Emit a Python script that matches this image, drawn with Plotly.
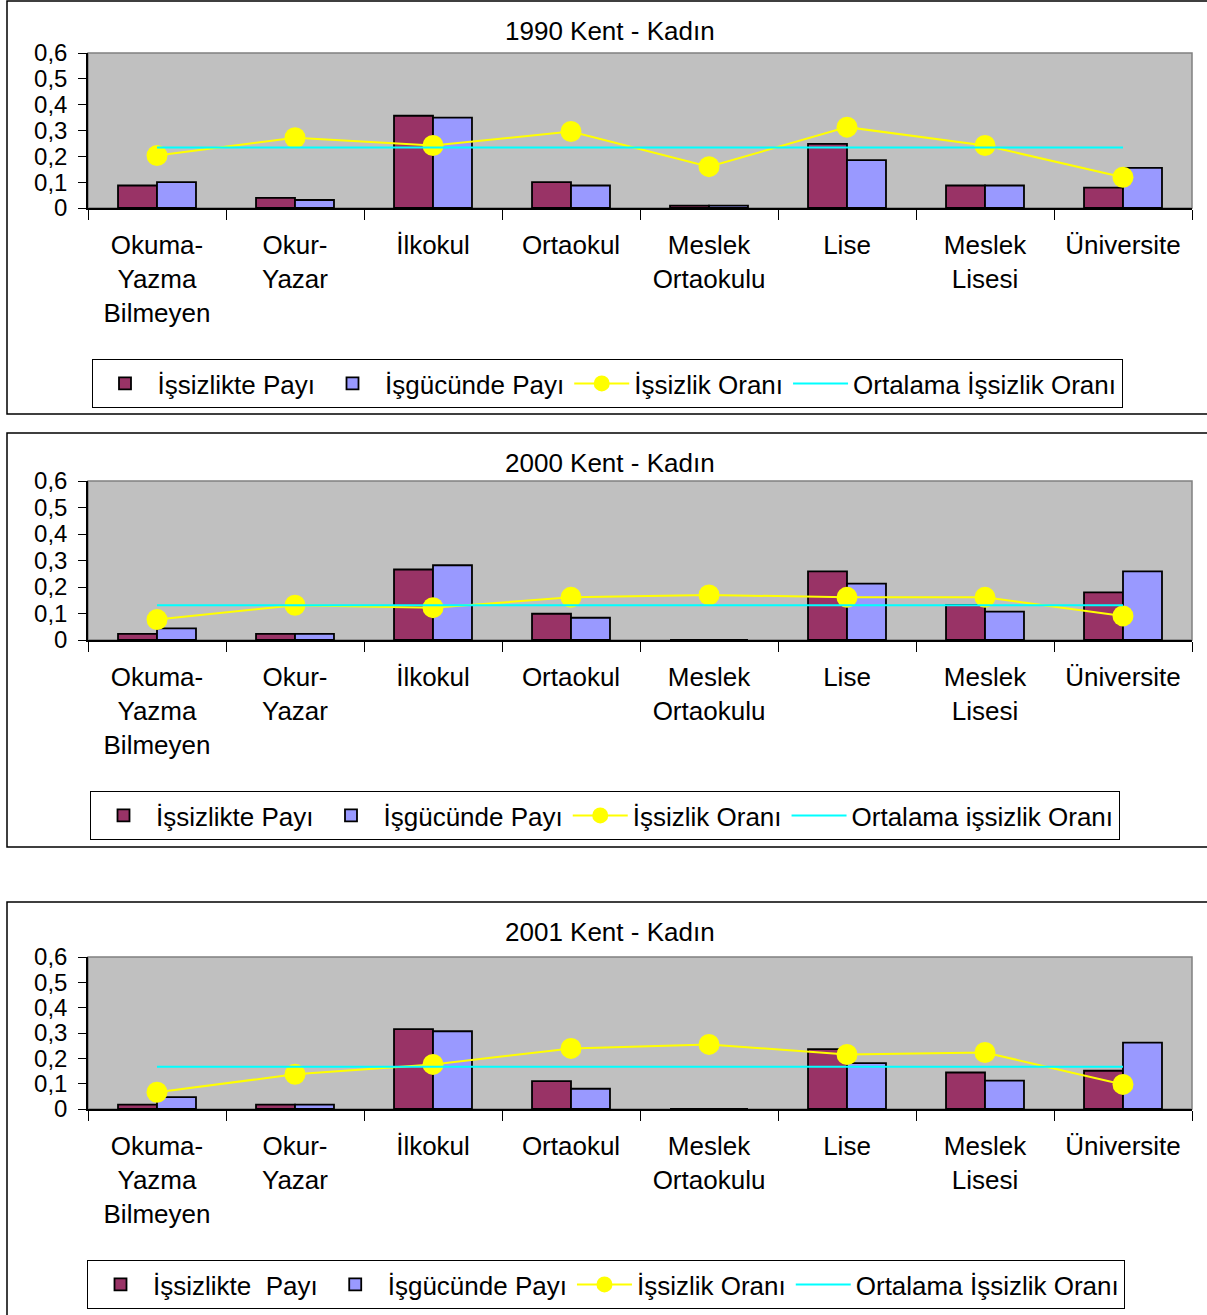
import plotly.graph_objects as go

W, H = 1207, 1315

categories = ["Okuma-<br>Yazma<br>Bilmeyen", "Okur-<br>Yazar", "İlkokul", "Ortaokul",
              "Meslek<br>Ortaokulu", "Lise", "Meslek<br>Lisesi", "Üniversite"]

titles = ["1990 Kent - Kadın", "2000 Kent - Kadın", "2001 Kent - Kadın"]

issizlikte_1990 = [0.087, 0.039, 0.357, 0.100, 0.009, 0.248, 0.087, 0.079]
isgucunde_1990 = [0.100, 0.031, 0.350, 0.087, 0.009, 0.185, 0.087, 0.155]
oran_1990 = [0.203, 0.272, 0.242, 0.296, 0.160, 0.313, 0.242, 0.119]
ortalama_1990 = 0.234

issizlikte_2000 = [0.023, 0.023, 0.266, 0.099, 0, 0.259, 0.132, 0.180]
isgucunde_2000 = [0.044, 0.023, 0.282, 0.084, 0, 0.213, 0.107, 0.259]
oran_2000 = [0.077, 0.131, 0.122, 0.161, 0.170, 0.161, 0.161, 0.091]
ortalama_2000 = 0.131

issizlikte_2001 = [0.017, 0.017, 0.315, 0.110, 0, 0.236, 0.144, 0.151]
isgucunde_2001 = [0.047, 0.017, 0.307, 0.080, 0, 0.181, 0.112, 0.262]
oran_2001 = [0.066, 0.137, 0.176, 0.239, 0.255, 0.215, 0.223, 0.097]
ortalama_2001 = 0.167

legend_names = [
    ["İşsizlikte Payı", "İşgücünde Payı", "İşsizlik Oranı", "Ortalama İşsizlik Oranı"],
    ["İşsizlikte Payı", "İşgücünde Payı", "İşsizlik Oranı", "Ortalama işsizlik Oranı"],
    ["İşsizlikte\u00a0 Payı", "İşgücünde Payı", "İşsizlik Oranı", "Ortalama İşsizlik Oranı"],
]

panels = [
    (issizlikte_1990, isgucunde_1990, oran_1990, ortalama_1990),
    (issizlikte_2000, isgucunde_2000, oran_2000, ortalama_2000),
    (issizlikte_2001, isgucunde_2001, oran_2001, ortalama_2001),
]

# pixel layout (top, bottom of plot area), title y, legend box, panel box
plot_px = [(53, 208), (481, 640), (957, 1109)]
title_px = [31, 463, 932]
legend_px = [(607, 359), (605, 791), (606, 1260)]
box_px = [(1, 414), (433, 847), (902, 1325)]
x_left, x_right = 88, 1192

RED = "#993366"
BLUE = "#9999FF"
YELLOW = "#FFFF00"
CYAN = "#00FFFF"
FONT = "Liberation Sans, Arial, sans-serif"

def py(p):
    return 1 - p / H

def px(p):
    return p / W

fig = go.Figure()
layout = dict(
    width=W, height=H, margin=dict(l=0, r=0, t=0, b=0, autoexpand=False),
    paper_bgcolor="white", plot_bgcolor="#C0C0C0",
    separators=", ", barmode="group", bargap=0.435, bargroupgap=0,
    font=dict(family=FONT, color="black"),
    showlegend=True, shapes=[], annotations=[],
)

for i, (a, b, c, avg) in enumerate(panels):
    sfx = "" if i == 0 else str(i + 1)
    xa, ya = "x" + sfx, "y" + sfx
    lg = "legend" + sfx
    names = legend_names[i]
    fig.add_trace(go.Bar(x=categories, y=a, name=names[0], marker=dict(color=RED, line=dict(color="black", width=1.8)),
                         xaxis=xa, yaxis=ya, legend=lg))
    fig.add_trace(go.Bar(x=categories, y=b, name=names[1], marker=dict(color=BLUE, line=dict(color="black", width=1.8)),
                         xaxis=xa, yaxis=ya, legend=lg))
    fig.add_trace(go.Scatter(x=categories, y=c, name=names[2], mode="lines+markers",
                             line=dict(color=YELLOW, width=2), marker=dict(color=YELLOW, size=21),
                             xaxis=xa, yaxis=ya, legend=lg))
    fig.add_trace(go.Scatter(x=categories, y=[avg] * len(categories), name=names[3], mode="lines",
                             line=dict(color=CYAN, width=2), xaxis=xa, yaxis=ya, legend=lg))

    top, bot = plot_px[i]
    layout["xaxis" + sfx] = dict(
        domain=[px(x_left), px(x_right)], anchor=ya, type="category", automargin=False,
        showline=True, linecolor="black", linewidth=1.5,
        ticks="outside", tickson="boundaries", ticklen=10, tickcolor="black", tickwidth=1,
        tickfont=dict(size=26, family=FONT, color="black"), ticklabelstandoff=13,
        showgrid=False, zeroline=False, fixedrange=True,
    )
    layout["yaxis" + sfx] = dict(
        domain=[py(bot), py(top)], anchor=xa, range=[0, 0.6], dtick=0.1, tick0=0, automargin=False,
        showline=True, linecolor="black", linewidth=1.5,
        ticks="outside", ticklen=8, tickcolor="black", tickwidth=1,
        tickfont=dict(size=24, family=FONT, color="black"), ticklabelstandoff=6,
        showgrid=False, zeroline=False, fixedrange=True,
    )
    lx, ly = legend_px[i]
    layout[lg] = dict(
        orientation="h", x=px(lx), xanchor="center", y=py(ly), yanchor="top",
        bgcolor="white", bordercolor="black", borderwidth=1,
        font=dict(size=26, family=FONT, color="black"), itemwidth=55,
        traceorder="normal",
    )
    # plot area border (gray)
    layout["shapes"].append(dict(type="rect", xref="paper", yref="paper",
                                 x0=px(x_left), x1=px(x_right), y0=py(bot), y1=py(top),
                                 line=dict(color="#808080", width=1.5), layer="below"))
    # panel border
    b0, b1 = box_px[i]
    layout["shapes"].append(dict(type="rect", xref="paper", yref="paper",
                                 x0=px(7), x1=px(1220), y0=py(b1), y1=py(b0),
                                 line=dict(color="black", width=1.5), layer="below"))
    layout["annotations"].append(dict(text=titles[i], xref="paper", yref="paper",
                                      x=px(610), y=py(title_px[i]), xanchor="center", yanchor="middle",
                                      showarrow=False, font=dict(size=26, family=FONT, color="black")))

fig.update_layout(**layout)
fig.write_html("out.html", config={"displayModeBar": False},
               post_script="document.body.style.margin='0px';document.body.style.overflow='hidden';")
